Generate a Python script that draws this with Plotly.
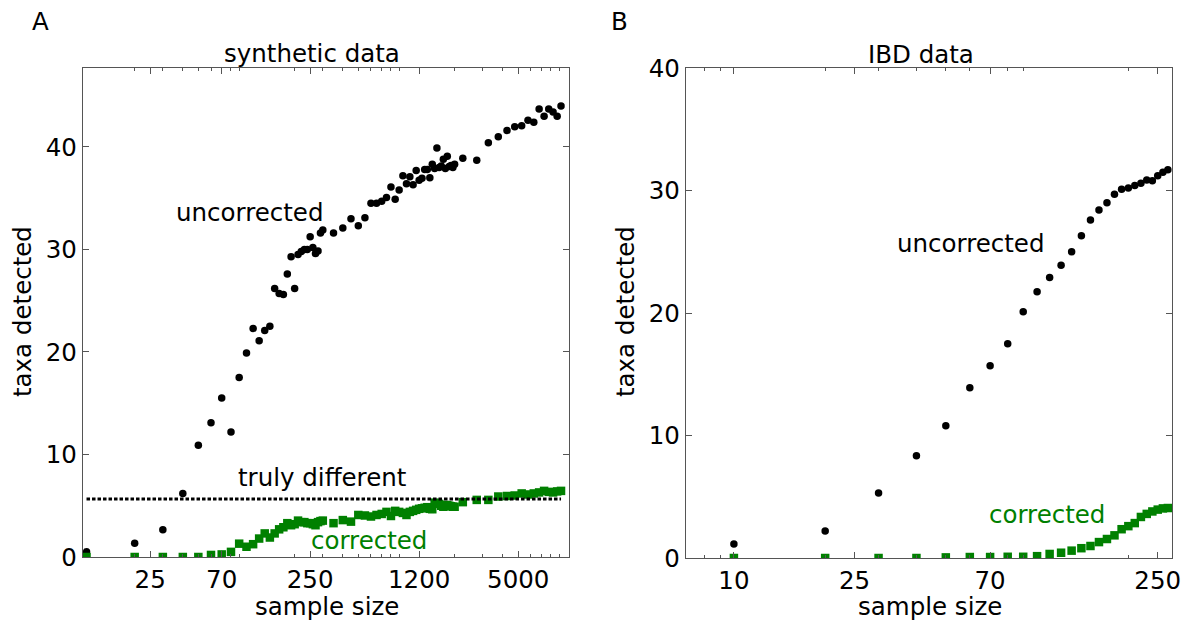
import plotly.graph_objects as go

# ---------------- data: panel A (synthetic data) ----------------
synth_sizes = [10, 20, 30, 40, 50, 60, 70, 80, 90, 100, 110, 120, 130, 140, 150, 160, 170, 180, 190, 200,
               210, 220, 230, 240, 250, 260, 270, 280, 290, 300,
               350, 400, 450, 500, 550, 600, 650, 700, 750, 800, 850, 900, 950, 1000, 1050, 1100, 1150, 1200,
               1250, 1300, 1350, 1400, 1450, 1500, 1550, 1600, 1650, 1700, 1750, 1800, 1850, 1900, 1950, 2000,
               2250, 2750, 3250, 3750, 4250, 4750, 5250, 5750, 6250, 6750, 7250, 7750, 8250, 8750, 9250]
synth_uncorrected = [0.5, 1.35, 2.65, 6.2, 10.9, 13.1, 15.5, 12.2, 17.5, 19.9, 22.3, 21.1, 22.1, 22.5, 26.2,
                     25.7, 25.6, 27.6, 29.3, 26.2, 29.5, 29.8, 30.0, 30.0, 31.25, 30.2, 29.6, 29.85, 31.6, 31.9,
                     31.6, 32.1, 33.0, 32.3, 33.1, 34.5, 34.5, 34.7, 35.06, 36.1, 34.9, 35.8, 37.2, 36.4, 37.1,
                     36.3, 37.7, 36.75, 36.95, 37.8, 37.8, 37.0, 38.3, 37.9, 39.9, 38.0, 38.15, 38.8, 37.9, 39.1,
                     38.1, 38.2, 38.0, 38.3,
                     38.9, 38.7, 40.4, 41.0, 41.6, 41.97, 42.06, 42.6, 42.4, 43.7, 43.0, 43.7, 43.4, 43.0, 44.0]
synth_corrected = [0, 0, 0, 0, 0, 0.2, 0.25, 0.5, 1.3, 1.0, 1.25, 1.8, 2.3, 1.9, 2.3, 2.7, 2.9, 3.3, 3.1, 3.2,
                   3.55, 3.4, 3.4, 3.3, 3.3, 3.2, 3.1, 3.4, 3.5, 3.55,
                   3.3, 3.6, 3.45, 4.1, 4.05, 3.95, 4.1, 4.2, 4.4, 4.0, 4.5, 4.4, 4.3, 4.1, 4.4, 4.5, 4.6, 4.7,
                   4.75, 4.8, 4.86, 4.7, 4.66, 5.3, 5.2, 5.18, 5.0, 4.9, 5.08, 5.05, 5.0, 4.95, 4.9, 4.9,
                   5.35, 5.57, 5.57, 5.9, 5.95, 6.0, 6.2, 6.1, 6.2, 6.3, 6.45, 6.35, 6.3, 6.4, 6.45]
truly_different = 5.65
synth_ticks = [25, 70, 250, 1200, 5000]
synth_tick_labels = ["25", "70", "250", "1200", "5000"]

# ---------------- data: panel B (IBD data) ----------------
ibd_sizes = [10, 20, 30, 40, 50, 60, 70, 80, 90, 100, 110, 120, 130, 140, 150, 160, 170, 180, 190, 200,
             210, 220, 230, 240, 250, 260, 270]
ibd_uncorrected = [1.14, 2.2, 5.3, 8.35, 10.8, 13.9, 15.7, 17.5, 20.1, 21.74, 22.9, 23.9, 25.0, 26.3, 27.6,
                   28.4, 29.0, 29.7, 30.1, 30.2, 30.4, 30.6, 30.86, 30.8, 31.2, 31.5, 31.7]
ibd_corrected = [0, 0, 0, 0, 0.05, 0.08, 0.08, 0.1, 0.1, 0.15, 0.33, 0.43, 0.6, 0.8, 0.98, 1.3, 1.55, 1.85,
                 2.35, 2.6, 2.85, 3.35, 3.6, 3.8, 3.95, 4.05, 4.08]
ibd_ticks = [10, 25, 70, 250]
ibd_tick_labels = ["10", "25", "70", "250"]

y_ticks = [0, 10, 20, 30, 40]

W, H = 1183, 623
FONT = "DejaVu Sans"
FS = 24.5
GREEN = "#008000"
SPINE = "#555555"


def px(x):
    return x / W


def py(y):
    return 1 - y / H


def log_minor(lo, hi, skip):
    vals = []
    d = 1
    while d < hi * 10:
        for m in range(2, 10):
            v = m * d
            if lo <= v <= hi and v not in skip:
                vals.append(v)
        d *= 10
    return vals


fig = go.Figure()

# Panel A
fig.add_trace(go.Scatter(x=synth_sizes, y=synth_uncorrected, mode="markers", xaxis="x", yaxis="y",
                         marker=dict(symbol="circle", size=7.5, color="black", line=dict(width=0)),
                         showlegend=False))
fig.add_trace(go.Scatter(x=synth_sizes, y=synth_corrected, mode="markers", xaxis="x", yaxis="y",
                         marker=dict(symbol="square", size=8.5, color=GREEN, line=dict(width=0)),
                         showlegend=False))
fig.add_trace(go.Scatter(x=[synth_sizes[0], synth_sizes[-1]], y=[truly_different, truly_different],
                         mode="lines", xaxis="x", yaxis="y",
                         line=dict(color="black", width=3, dash="3.5px,2px"), showlegend=False))

# Panel B
fig.add_trace(go.Scatter(x=ibd_sizes, y=ibd_uncorrected, mode="markers", xaxis="x2", yaxis="y2",
                         marker=dict(symbol="circle", size=7.5, color="black", line=dict(width=0)),
                         showlegend=False))
fig.add_trace(go.Scatter(x=ibd_sizes, y=ibd_corrected, mode="markers", xaxis="x2", yaxis="y2",
                         marker=dict(symbol="square", size=8.5, color=GREEN, line=dict(width=0)),
                         showlegend=False))

tickfont = dict(family=FONT, size=FS, color="black")

common_axis = dict(showline=True, linecolor=SPINE, linewidth=1.3, mirror="allticks", ticks="inside",
                   ticklen=6, tickwidth=1, tickcolor=SPINE, showgrid=False, zeroline=False,
                   tickfont=tickfont, automargin=False)

fig.update_layout(
    width=W, height=H,
    margin=dict(l=0, r=0, t=0, b=0),
    paper_bgcolor="white", plot_bgcolor="white",
    font=dict(family=FONT, size=FS, color="black"),
    xaxis=dict(type="log", domain=[px(83), px(569)], range=[0.978, 4.016], anchor="y",
               tickmode="array", tickvals=synth_ticks, ticktext=synth_tick_labels,
               minor=dict(tickmode="array", tickvals=log_minor(10, 10400, synth_ticks), ticks="inside",
                          ticklen=3, tickcolor=SPINE, showgrid=False),
               **common_axis),
    yaxis=dict(domain=[py(557), py(68)], range=[0, 47.7], anchor="x",
               tickmode="array", tickvals=y_ticks, **common_axis),
    xaxis2=dict(type="log", domain=[px(686), px(1172)], range=[0.842, 2.445], anchor="y2",
                tickmode="array", tickvals=ibd_ticks, ticktext=ibd_tick_labels,
                minor=dict(tickmode="array", tickvals=log_minor(6.9, 280, ibd_ticks), ticks="inside",
                           ticklen=3, tickcolor=SPINE, showgrid=False),
                **common_axis),
    yaxis2=dict(domain=[py(558), py(68)], range=[0, 40], anchor="x2",
                tickmode="array", tickvals=y_ticks, **common_axis),
)


def label(text, x, y, color="black", angle=0, size=FS):
    fig.add_annotation(text=text, x=px(x), y=py(y), xref="paper", yref="paper",
                       xanchor="center", yanchor="middle", showarrow=False, textangle=angle,
                       font=dict(family=FONT, size=size, color=color))


label("A", 40, 22)
label("B", 620, 22)
label("synthetic data", 312, 53)
label("IBD data", 921, 54)
label("sample size", 327, 606)
label("sample size", 930, 606)
label("taxa detected", 22, 312, angle=-90)
label("taxa detected", 625, 312, angle=-90)
label("uncorrected", 249, 212)
label("truly different", 322, 477)
label("corrected", 369, 540, color=GREEN)
label("uncorrected", 970, 244)
label("corrected", 1047, 514, color=GREEN)

fig.write_html("out.html")
